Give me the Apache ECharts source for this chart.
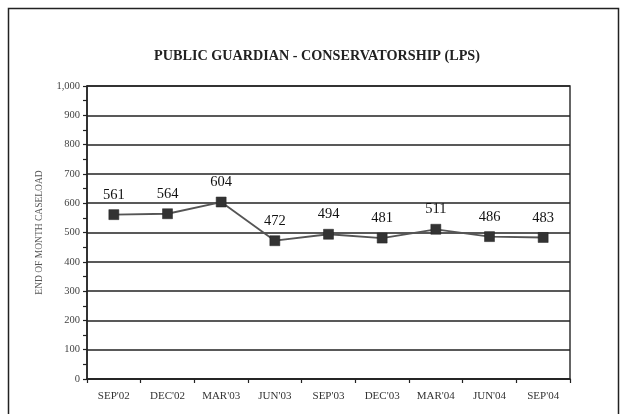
<!DOCTYPE html>
<html><head><meta charset="utf-8">
<script src="https://cdn.jsdelivr.net/npm/echarts@6/dist/echarts.min.js"></script>
<style>html,body{margin:0;padding:0;background:#fff}#c{width:621px;height:414px}</style>
</head><body><div id="c"></div>
<script>
var categories = ["SEP'02","DEC'02","MAR'03","JUN'03","SEP'03","DEC'03","MAR'04","JUN'04","SEP'04"];
var caseload = [561,564,604,472,494,481,511,486,483];
var titleText = "PUBLIC GUARDIAN - CONSERVATORSHIP (LPS)";
var yAxisName = "END OF MONTH CASELOAD";

var chart = echarts.init(document.getElementById('c'), null, {renderer:'canvas'});
var serif = '"Liberation Serif","DejaVu Serif",serif';
chart.setOption({
  animation:false,
  backgroundColor:'#fff',
  title:{text:titleText,left:312,top:44,textAlign:'center',
    textStyle:{fontFamily:serif,fontSize:14.2,fontWeight:'bold',color:'#222'}},
  graphic:[{type:'rect',shape:{x:8.5,y:8.5,width:610,height:420},
    style:{fill:'none',stroke:'#222',lineWidth:1.5},silent:true}],
  grid:{left:87,right:51,top:86,bottom:35,show:true,borderColor:'#333',borderWidth:1.5},
  xAxis:{type:'category',data:categories,boundaryGap:true,
    axisLine:{lineStyle:{color:'#222',width:1.5}},
    axisTick:{show:true,length:4,lineStyle:{color:'#222',width:1.2},alignWithLabel:false},
    axisLabel:{fontFamily:serif,fontSize:11,color:'#333',margin:12},
    splitLine:{show:false}},
  yAxis:{type:'value',min:0,max:1000,interval:100,
    name:yAxisName,nameLocation:'middle',nameGap:43,
    nameTextStyle:{fontFamily:serif,fontSize:9.5,color:'#555'},
    axisLine:{show:true,lineStyle:{color:'#222',width:1.5}},
    axisTick:{show:true,length:4,lineStyle:{color:'#222',width:1.2}},
    minorTick:{show:true,splitNumber:2,length:4,lineStyle:{color:'#222',width:1.2}},
    axisLabel:{fontFamily:serif,fontSize:10.5,color:'#444',margin:7,
      formatter:function(v){return v.toLocaleString('en-US');}},
    splitLine:{show:true,lineStyle:{color:'#222',width:1.6}}},
  series:[{type:'line',data:caseload,symbol:'rect',symbolSize:10,
    lineStyle:{color:'#555',width:1.8},
    itemStyle:{color:'#333',borderColor:'#222',borderWidth:0.5},
    label:{show:true,position:'top',distance:7,fontFamily:serif,fontSize:14.5,color:'#111'}}]
});
</script></body></html>
